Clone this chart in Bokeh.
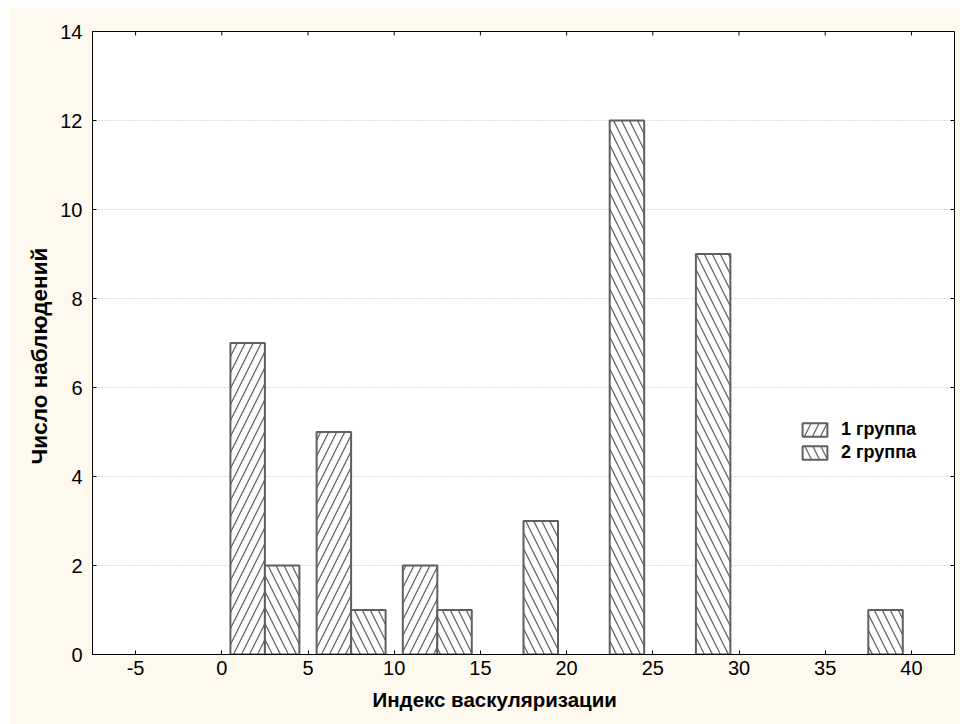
import math

from bokeh.plotting import figure
from bokeh.models import (ColumnDataSource, Range1d, FixedTicker, Legend, LegendItem,
                          Title)
from bokeh.embed import file_html
from bokeh.resources import INLINE

# Histogram of the vascularization index: counts per 5-unit bin for two groups
bin_left = [0, 5, 10, 15, 20, 25, 30, 35]
group1 = [7, 5, 2, 0, 0, 0, 0, 0]
group2 = [2, 1, 1, 3, 12, 9, 0, 1]
series_names = ["1 группа", "2 группа"]
x_ticks = [-5, 0, 5, 10, 15, 20, 25, 30, 35, 40]
y_ticks = [0, 2, 4, 6, 8, 10, 12, 14]
x_title = "Индекс васкуляризации"
y_title = "Число наблюдений"

X_MIN, X_MAX = -7.5, 42.5
Y_MIN, Y_MAX = 0, 14
BIN = 5
BAR_W = 2.0


def bars(counts, offset):
    xs, tops = [], []
    for left, c in zip(bin_left, counts):
        if c > 0:
            xs.append(left + offset)
            tops.append(c)
    return ColumnDataSource(dict(x=xs, top=tops))


src1 = bars(group1, BIN / 2 - BAR_W / 2)
src2 = bars(group2, BIN / 2 + BAR_W / 2)

FONT = "Liberation Sans"
BG = "#FDF9EF"

p = figure(width=952, height=717, output_backend="svg", toolbar_location=None,
           x_range=Range1d(X_MIN, X_MAX), y_range=Range1d(Y_MIN, Y_MAX),
           min_border_left=84, min_border_right=6, min_border_top=24,
           min_border_bottom=70)
p.margin = (7, 0, 0, 8)
p.border_fill_color = BG
p.background_fill_color = "white"
p.outline_line_color = "black"
p.outline_line_width = 1

bar_style = dict(fill_color="white", line_color="#5f5f5f", line_width=2,
                 hatch_color="#666666", hatch_weight=1.3, hatch_scale=16)
r1 = p.vbar(x="x", top="top", bottom=0, width=BAR_W, source=src1,
            hatch_pattern="/", **bar_style)
r2 = p.vbar(x="x", top="top", bottom=0, width=BAR_W, source=src2,
            hatch_pattern="\\", **bar_style)

# grid: dotted horizontal lines only
p.xgrid.visible = False
p.ygrid.ticker = FixedTicker(ticks=y_ticks)
p.ygrid.grid_line_color = "#bdbdbd"
p.ygrid.grid_line_dash = "1 2"
p.ygrid.grid_line_width = 1

xa = p.xaxis[0]
xa.ticker = FixedTicker(ticks=x_ticks)
# plain hyphen for negative tick labels
xa.major_label_overrides = {t: str(t) for t in x_ticks}
ya = p.yaxis[0]
ya.ticker = FixedTicker(ticks=y_ticks)
for ax in (xa, ya):
    ax.axis_line_color = "black"
    ax.major_tick_in = 4
    ax.major_tick_out = 0
    ax.major_tick_line_color = "black"
    ax.minor_tick_line_color = None
    ax.major_label_text_font = FONT
    ax.major_label_text_font_size = "20px"
    ax.major_label_text_color = "black"
xa.major_label_standoff = 6
ya.major_label_standoff = 10

# axis titles, placed slightly off the frame centre
p.add_layout(Title(text=x_title, align="left", offset=280, standoff=17,
                   text_font=FONT, text_font_size="20.5px", text_font_style="bold",
                   text_color="black"), "below")
p.add_layout(Title(text=y_title, align="left", offset=190, standoff=12,
                   text_font=FONT, text_font_size="22.5px", text_font_style="bold",
                   text_color="black"), "left")

# inward tick marks mirrored on the top and right edges of the frame
p.ray(x=x_ticks, y=[Y_MAX] * len(x_ticks), length=4, length_units="screen",
      angle=-math.pi / 2, line_color="black", line_width=1)
p.ray(x=[X_MAX] * len(y_ticks), y=y_ticks, length=4, length_units="screen",
      angle=math.pi, line_color="black", line_width=1)

legend = Legend(items=[LegendItem(label=series_names[0], renderers=[r1]),
                       LegendItem(label=series_names[1], renderers=[r2])],
                location=(707, 191), padding=0, margin=0, spacing=2,
                glyph_width=31, glyph_height=17, label_standoff=11,
                label_text_font=FONT, label_text_font_size="18px",
                label_text_font_style="bold", label_text_color="black",
                border_line_color=None, background_fill_alpha=0)
p.add_layout(legend, "center")

open("out.html", "w").write(file_html(p, INLINE))
